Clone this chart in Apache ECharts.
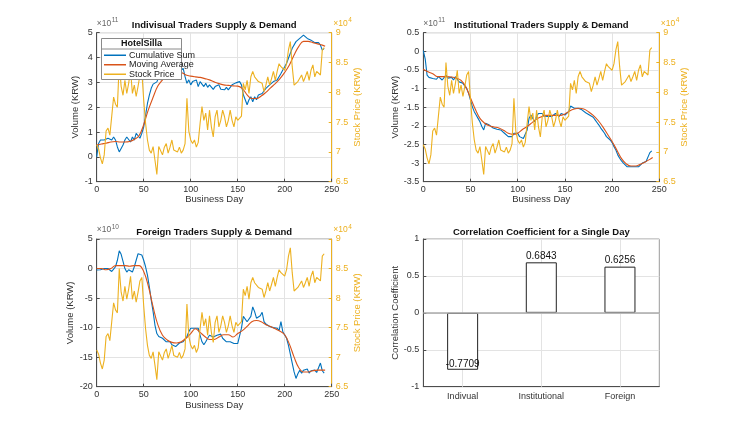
<!DOCTYPE html>
<html><head><meta charset="utf-8">
<script src="https://cdn.jsdelivr.net/npm/echarts@6/dist/echarts.min.js"></script>
<style>html,body{margin:0;padding:0;background:#fff}#c{width:743px;height:435px}</style>
</head><body><div id="c"></div>
<script>
// ---------- DATA ----------
// business days sampled every 2 days (0..242)
const days2 = []; for (let d = 0; d <= 242; d += 2) days2.push(d);
// moving-average sample days
const maDays = [0,5,10,15,20,25,30,35,40,45,50,55,60,65,70,75,80,85,90,95,100,105,110,115,120,125,130,135,140,145,150,155,160,165,170,175,180,185,190,195,200,205,210,215,220,225,230,235,240,243];

// stock price (x10^4 KRW)
const stockPrice = [
 7.12,7.05,6.9,6.8,6.95,7.35,7.4,7.28,7.6,7.92,
 7.8,7.75,8.5,8.1,7.95,8.2,7.98,8.15,8.37,7.98,
 8.12,7.93,8.1,8.29,8.35,7.87,7.48,7.2,7.03,6.98,
 7.09,6.86,6.62,7.09,7.1,6.95,7.08,7.14,6.98,7.08,
 7.2,7.03,7.05,7.0,7.08,6.98,7.03,7.14,7.9,7.35,
 7.2,7.14,7.2,7.08,7.16,7.48,7.76,7.53,7.65,7.37,
 7.7,7.42,7.25,7.59,7.7,7.42,7.53,7.7,7.59,7.42,
 7.53,7.7,7.53,7.42,7.59,7.53,7.56,7.6,8.15,8.04,
 8.2,7.98,8.26,8.35,8.26,8.26,8.18,8.2,8.15,8.01,
 8.12,8.26,8.12,8.23,8.35,8.2,8.35,8.48,8.43,8.4,
 8.37,8.48,8.71,8.85,8.43,8.12,8.15,8.18,8.2,8.29,
 8.18,8.26,8.35,8.2,8.37,8.46,8.26,8.35,8.37,8.29,
 8.71,8.75];

// individual traders cumulative sum (x10^11 KRW)
const indivCum = [
 0.0,0.54,0.68,0.75,0.68,0.6,0.75,0.81,0.68,0.8,
 0.68,0.4,0.2,0.17,0.48,0.68,0.8,0.75,0.6,0.8,
 0.68,0.95,0.95,0.75,0.95,1.2,1.68,2.15,2.49,2.76,
 2.93,2.98,3.02,3.2,3.1,3.3,3.23,3.43,3.3,3.43,
 3.5,3.56,3.5,3.56,3.43,3.5,3.56,3.23,2.96,3.1,
 2.9,3.03,2.96,3.1,2.83,3.03,2.96,2.83,2.96,2.8,
 2.9,2.96,2.72,2.83,2.8,2.9,2.72,2.8,2.7,2.8,
 2.7,2.72,2.9,2.96,2.98,2.96,3.03,2.9,2.5,2.3,
 2.1,2.3,2.42,2.22,2.42,2.3,2.49,2.42,2.55,2.49,
 2.76,2.7,2.9,2.83,3.03,2.96,3.1,3.23,3.36,3.5,
 3.63,3.77,3.97,4.17,4.37,4.43,4.64,4.7,4.77,4.84,
 4.9,4.84,4.77,4.8,4.7,4.64,4.6,4.57,4.6,4.5,
 4.3,4.37];
const indivMA = [
 0.48,0.52,0.55,0.6,0.62,0.6,0.6,0.62,0.7,0.85,
 1.3,1.9,2.4,2.85,3.1,3.3,3.4,3.42,3.4,3.3,
 3.25,3.22,3.2,3.15,3.1,3.02,2.95,2.9,2.88,2.86,
 2.85,2.75,2.5,2.35,2.35,2.45,2.6,2.78,2.95,3.15,
 3.4,3.7,4.1,4.45,4.65,4.65,4.6,4.55,4.5,4.45];

// institutional traders cumulative sum (x10^11 KRW)
const instCum = [
 0.02,-0.2,-0.64,-0.7,-0.66,-0.73,-0.72,-0.75,-0.68,-0.72,
 -0.77,-0.72,-0.64,-0.72,-0.7,-0.7,-0.77,-0.68,-0.72,-0.82,
 -0.86,-0.86,-0.9,-1.0,-1.13,-1.31,-1.49,-1.62,-1.71,-1.8,
 -1.89,-2.02,-2.11,-1.93,-1.95,-1.98,-2.02,-2.06,-2.04,-2.09,
 -2.06,-2.11,-2.15,-2.2,-2.24,-2.29,-2.34,-2.29,-2.2,-2.16,
 -2.2,-2.29,-2.24,-2.34,-2.29,-2.11,-1.8,-1.71,-1.75,-1.89,
 -1.75,-1.67,-1.71,-1.67,-1.74,-1.71,-1.75,-1.71,-1.75,-1.71,
 -1.67,-1.71,-1.75,-1.67,-1.71,-1.71,-1.67,-1.62,-1.47,-1.49,
 -1.53,-1.5,-1.53,-1.5,-1.57,-1.62,-1.65,-1.69,-1.71,-1.75,
 -1.77,-1.84,-1.91,-1.98,-2.06,-2.13,-2.2,-2.29,-2.33,-2.38,
 -2.45,-2.56,-2.65,-2.78,-2.87,-2.94,-3.0,-3.05,-3.1,-3.14,
 -3.1,-3.14,-3.1,-3.14,-3.1,-3.05,-3.0,-2.98,-2.96,-2.92,
 -2.72,-2.67];
const instMA = [
 -0.48,-0.55,-0.6,-0.68,-0.68,-0.68,-0.69,-0.72,-0.78,-0.95,
 -1.25,-1.55,-1.8,-1.93,-2.0,-2.03,-2.06,-2.12,-2.2,-2.23,
 -2.2,-2.1,-2.02,-1.92,-1.82,-1.76,-1.72,-1.72,-1.72,-1.72,
 -1.68,-1.6,-1.55,-1.53,-1.55,-1.62,-1.72,-1.85,-2.02,-2.22,
 -2.42,-2.65,-2.88,-3.02,-3.08,-3.08,-3.03,-2.97,-2.9,-2.85];

// foreign traders cumulative sum (x10^10 KRW)
const foreignCum = [
 -0.25,-0.4,-0.2,-0.25,0.0,0.3,0.0,-0.25,-0.5,-0.1,
 0.3,1.4,3.0,2.4,1.2,0.0,-0.6,-0.2,0.0,-0.6,
 0.3,1.4,2.5,2.6,2.3,1.4,0.3,-1.1,-3.1,-5.3,
 -7.3,-9.6,-11.0,-11.5,-11.6,-11.8,-12.1,-12.4,-12.7,-12.4,
 -12.9,-12.9,-13.2,-12.9,-12.6,-12.9,-12.4,-12.1,-11.5,-10.7,
 -10.1,-10.0,-10.1,-9.8,-10.1,-11.3,-12.4,-12.9,-12.4,-11.8,
 -11.3,-11.0,-11.6,-11.8,-11.3,-11.0,-11.1,-11.8,-12.1,-12.4,
 -12.4,-12.4,-12.7,-12.7,-12.7,-12.7,-12.4,-10.1,-8.1,-7.9,
 -9.0,-8.7,-8.1,-6.5,-7.3,-8.4,-8.6,-8.0,-7.4,-9.0,
 -9.4,-9.6,-9.8,-10.1,-10.0,-9.8,-10.1,-10.5,-9.0,-10.7,
 -11.0,-11.8,-13.0,-14.5,-16.0,-17.5,-18.6,-17.8,-17.2,-17.7,
 -17.2,-17.5,-17.0,-17.7,-17.3,-17.5,-17.2,-17.6,-17.3,-16.0,
 -17.3,-17.7];
const foreignMA = [
 0,0,-0.2,0,0.5,0.5,0.5,0.4,0.5,0.5,
 -0.5,-3,-6.5,-9.5,-11.3,-12.1,-12.5,-12.6,-12.4,-11.8,
 -11,-10.2,-10.8,-11.5,-12,-12,-11.6,-11.2,-11.2,-11.6,
 -11,-10.5,-9.8,-9.0,-8.8,-9.0,-9.5,-9.8,-10.2,-10.6,
 -11.2,-12.8,-15,-16.8,-17.5,-17.5,-17.3,-17.2,-17.2,-17.2];

// correlation coefficients
const corrCats = ['Indivual', 'Institutional', 'Foreign'];
const corrVals = [-0.7709, 0.6843, 0.6256];

// tick settings
const leftAxes = [
  {min: -1, max: 5, interval: 1, exp: '11'},
  {min: -3.5, max: 0.5, interval: 0.5, exp: '11'},
  {min: -20, max: 5, interval: 5, exp: '10'}
];
const titles = ['Indivisual Traders Supply & Demand','Institutional Traders Supply & Demand','Foreign Traders Supply & Demand','Correlation Coefficient for a Single Day'];

// ---------- CHART ----------
const FONT = 'Liberation Sans, Arial, Helvetica, sans-serif';
const BLUE = '#0072BD', RED = '#D95319', YEL = '#EDB120';
const AX = '#4d4d4d', TXT = '#333', GRIDC = '#e3e3e3';
const zip = (xs, ys) => xs.map((x, i) => [x, ys[i]]);

const grids = [
  {left: 96.7, top: 32.7, width: 235, height: 149},
  {left: 423.3, top: 32.7, width: 236, height: 149},
  {left: 96.7, top: 239, width: 235, height: 147.7},
  {left: 423.3, top: 239, width: 236, height: 147.7}
];
grids.forEach(g => { g.show = true; g.borderColor = '#9a9a9a'; g.borderWidth = 1; g.backgroundColor = 'transparent'; g.containLabel = false; });

const xAxes = [], yAxes = [], series = [];
const cumData = [indivCum, instCum, foreignCum];
const maData = [indivMA, instMA, foreignMA];
const xNameGap = [12, 12, 13.5];

for (let p = 0; p < 3; p++) {
  xAxes.push({
    type: 'value', gridIndex: p, min: 0, max: 250, interval: 50,
    name: 'Business Day', nameLocation: 'middle', nameGap: xNameGap[p],
    nameTextStyle: {fontFamily: FONT, fontSize: 9.5, color: TXT},
    axisLine: {show: true, onZero: false, lineStyle: {color: AX, width: 1}},
    axisTick: {show: true, inside: true, length: 3, lineStyle: {color: AX}},
    axisLabel: {fontFamily: FONT, fontSize: 9, color: TXT, margin: 3},
    splitLine: {show: true, lineStyle: {color: GRIDC, width: 1}}
  });
  const la = leftAxes[p];
  yAxes.push({
    type: 'value', gridIndex: p, position: 'left', min: la.min, max: la.max, interval: la.interval,
    name: 'Volume (KRW)', nameLocation: 'middle', nameGap: 12 + (p === 1 ? 4 : 0) + (p === 2 ? 2 : 0),
    nameTextStyle: {fontFamily: FONT, fontSize: 9.5, color: TXT},
    axisLine: {show: true, onZero: false, lineStyle: {color: AX, width: 1}},
    axisTick: {show: true, inside: true, length: 3, lineStyle: {color: AX}},
    axisLabel: {fontFamily: FONT, fontSize: 9, color: TXT, margin: 4},
    splitLine: {show: true, lineStyle: {color: GRIDC, width: 1}}
  });
  yAxes.push({
    type: 'value', gridIndex: p, position: 'right', min: 6.5, max: 9, interval: 0.5,
    name: 'Stock Price (KRW)', nameLocation: 'middle', nameGap: 17, nameRotate: 90,
    nameTextStyle: {fontFamily: FONT, fontSize: 9.5, color: YEL},
    axisLine: {show: true, onZero: false, lineStyle: {color: YEL, width: 1}},
    axisTick: {show: true, inside: true, length: 3, lineStyle: {color: YEL}},
    axisLabel: {fontFamily: FONT, fontSize: 9, color: YEL, margin: 4},
    splitLine: {show: false}
  });
  series.push({
    name: 'Cumulative Sum', type: 'line', xAxisIndex: p, yAxisIndex: 2 * p,
    data: zip(days2, cumData[p]), symbol: 'none', z: 3,
    lineStyle: {color: BLUE, width: 1.1}, itemStyle: {color: BLUE}
  });
  series.push({
    name: 'Moving Average', type: 'line', xAxisIndex: p, yAxisIndex: 2 * p,
    data: zip(maDays, maData[p]), symbol: 'none', smooth: 0.4, z: 4,
    lineStyle: {color: RED, width: 1.1}, itemStyle: {color: RED}
  });
  series.push({
    name: 'Stock Price', type: 'line', xAxisIndex: p, yAxisIndex: 2 * p + 1,
    data: zip(days2, stockPrice), symbol: 'none', z: 5,
    lineStyle: {color: YEL, width: 1.1}, itemStyle: {color: YEL}
  });
}

// panel 4
xAxes.push({
  type: 'category', gridIndex: 3, data: corrCats,
  axisLine: {show: true, onZero: false, lineStyle: {color: AX}},
  axisTick: {show: true, inside: true, length: 3, alignWithLabel: true, lineStyle: {color: AX}},
  axisLabel: {fontFamily: FONT, fontSize: 9, color: TXT, margin: 5},
  splitLine: {show: false}
});
yAxes.push({
  type: 'value', gridIndex: 3, min: -1, max: 1, interval: 0.5,
  name: 'Correlation Coefficient', nameLocation: 'middle', nameGap: 17,
  nameTextStyle: {fontFamily: FONT, fontSize: 9.5, color: TXT},
  axisLine: {show: true, onZero: false, lineStyle: {color: AX}},
  axisTick: {show: true, inside: true, length: 3, lineStyle: {color: AX}},
  axisLabel: {fontFamily: FONT, fontSize: 9, color: TXT, margin: 4},
  splitLine: {show: true, lineStyle: {color: GRIDC}}
});
series.push({
  type: 'line', xAxisIndex: 3, yAxisIndex: 6, data: [], z: 1, silent: true,
  markLine: {silent: true, z: 1, symbol: 'none', label: {show: false},
    lineStyle: {color: GRIDC, type: 'solid', width: 1},
    data: [{xAxis: 0}, {xAxis: 1}, {xAxis: 2}]}
});
series.push({
  type: 'bar', xAxisIndex: 3, yAxisIndex: 6, barWidth: 31, z: 3,
  data: corrVals.map(v => ({
    value: v,
    label: {show: true, position: v < 0 ? 'insideBottom' : 'top', distance: 1,
      formatter: String(v), fontFamily: FONT, fontSize: 10, color: '#111'}
  })),
  itemStyle: {color: '#fff', borderColor: '#222', borderWidth: 1},
  markLine: {silent: true, z: 5, symbol: 'none', label: {show: false},
    lineStyle: {color: '#aaa', type: 'solid', width: 1.5},
    data: [{yAxis: 0}]}
});

const titleOpts = titles.map((t, i) => ({
  text: t, left: grids[i].left + grids[i].width / 2, top: i < 2 ? 20.5 : 227,
  textAlign: 'center', padding: 0,
  textStyle: {fontFamily: FONT, fontSize: 9.5, fontWeight: 'bold', color: '#111'}
}));

// exponent labels and legend frame
const graphics = [];
for (let p = 0; p < 3; p++) {
  const g = grids[p];
  graphics.push({type: 'text', x: g.left, y: g.top - 9, z: 50,
    style: {text: '\u00d710', fontFamily: FONT, fontSize: 8.5, fill: '#666', textVerticalAlign: 'middle'}});
  graphics.push({type: 'text', x: g.left + 15, y: g.top - 12, z: 50,
    style: {text: leftAxes[p].exp, fontFamily: FONT, fontSize: 6.5, fill: '#666', textVerticalAlign: 'middle'}});
  const rx = g.left + g.width + 1.5;
  graphics.push({type: 'text', x: rx, y: g.top - 9, z: 50,
    style: {text: '\u00d710', fontFamily: FONT, fontSize: 8.5, fill: YEL, textVerticalAlign: 'middle'}});
  graphics.push({type: 'text', x: rx + 15, y: g.top - 12, z: 50,
    style: {text: '4', fontFamily: FONT, fontSize: 6.5, fill: YEL, textVerticalAlign: 'middle'}});
}
graphics.push({type: 'rect', z: 50, shape: {x: 101.5, y: 38.5, width: 80, height: 41},
  style: {fill: '#fff', stroke: '#8a8a8a', lineWidth: 1}});
graphics.push({type: 'text', z: 51, x: 141.5, y: 44,
  style: {text: 'HotelSilla', fontFamily: FONT, fontSize: 9, fontWeight: 'bold', fill: '#111',
    textAlign: 'center', textVerticalAlign: 'middle'}});
graphics.push({type: 'line', z: 51, shape: {x1: 101.5, y1: 49, x2: 181.5, y2: 49},
  style: {stroke: '#8a8a8a', lineWidth: 1}});

const chart = echarts.init(document.getElementById('c'), null, {renderer: 'canvas'});
chart.setOption({
  animation: false,
  backgroundColor: '#fff',
  title: titleOpts,
  grid: grids,
  xAxis: xAxes,
  yAxis: yAxes,
  legend: {
    data: ['Cumulative Sum', 'Moving Average', 'Stock Price'],
    orient: 'vertical', left: 104, top: 50.5, padding: 0, itemGap: 0,
    icon: 'rect', itemWidth: 22, itemHeight: 1.5, z: 60, selectedMode: false,
    textStyle: {fontFamily: FONT, fontSize: 9, color: '#222', lineHeight: 9.5, padding: [0, 0, 0, -2]}
  },
  graphic: graphics,
  series: series
});
</script></body></html>
